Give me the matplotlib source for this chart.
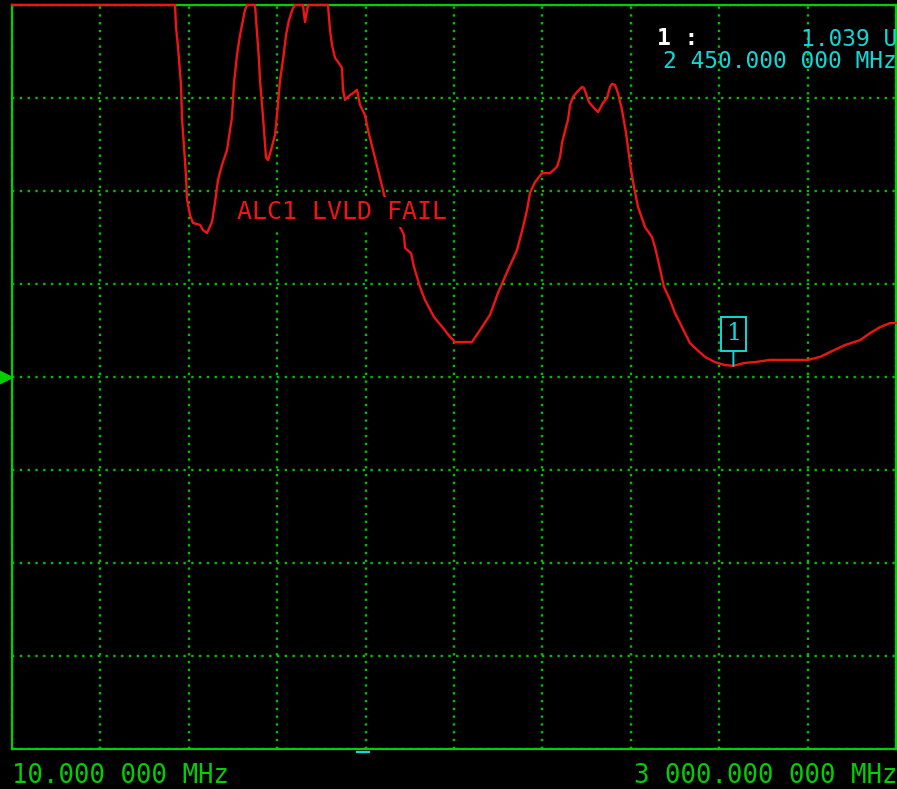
import numpy as np
import matplotlib
matplotlib.use('Agg')
import matplotlib.pyplot as plt

''' trace data: frequency in MHz, response in U '''
freq_mhz = [10, 561.3, 564.7, 571.5, 581.6, 585.0, 591.8, 598.5, 601.9, 612.1,
            622.2, 645.9, 656.0, 669.6, 686.5, 696.6, 706.8, 720.3, 737.2, 747.4,
            754.1, 760.9, 771.0, 781.2, 788.0, 798.1, 804.9, 825.2, 831.9, 838.7,
            845.5, 848.8, 859.0, 869.1, 875.9, 886.0, 899.6, 906.3, 916.5, 926.6,
            936.8, 946.9, 960.5, 967.2, 994.3, 1001.0, 1011.2, 1078.8, 1085.6, 1092.4,
            1102.5, 1112.7, 1126.2, 1129.6, 1136.3, 1153.3, 1163.4, 1176.9, 1187.1, 1204.0,
            1214.1, 1231.1, 1248.0, 1264.9, 1268.3, 1322.4, 1335.9, 1339.3, 1359.6, 1369.7,
            1390.0, 1406.9, 1437.4, 1467.8, 1491.5, 1508.4, 1565.9, 1592.9, 1626.8, 1653.8,
            1687.7, 1718.1, 1738.4, 1751.9, 1762.1, 1779.0, 1802.7, 1829.7, 1853.4, 1863.6,
            1870.3, 1883.8, 1890.6, 1897.4, 1907.5, 1921.1, 1938.0, 1944.7, 1961.6, 1975.2,
            1992.1, 2009.0, 2022.5, 2032.7, 2039.4, 2049.6, 2059.7, 2073.2, 2086.8, 2103.7,
            2113.8, 2127.4, 2151.1, 2174.7, 2184.9, 2195.0, 2215.3, 2235.6, 2252.5, 2269.4,
            2286.4, 2303.3, 2327.0, 2354.0, 2387.8, 2421.7, 2450.0, 2489.3, 2523.1, 2573.9,
            2702.4, 2743.0, 2776.8, 2827.6, 2878.3, 2912.1, 2946.0, 2979.8, 3000]
resp_u = [2.0, 2.0, 1.941, 1.887, 1.785, 1.696, 1.616, 1.540, 1.478, 1.435,
          1.414, 1.409, 1.395, 1.387, 1.417, 1.468, 1.530, 1.570, 1.610, 1.664,
          1.699, 1.790, 1.866, 1.919, 1.946, 1.987, 2.0, 2.0, 2.0, 1.925,
          1.852, 1.798, 1.699, 1.591, 1.583, 1.610, 1.651, 1.704, 1.798, 1.852,
          1.919, 1.960, 1.992, 2.0, 2.0, 1.954, 2.0, 2.0, 1.933, 1.892,
          1.858, 1.847, 1.831, 1.772, 1.745, 1.758, 1.763, 1.772, 1.731, 1.704,
          1.664, 1.610, 1.556, 1.503, 1.489, 1.403, 1.382, 1.347, 1.333, 1.296,
          1.242, 1.207, 1.161, 1.132, 1.108, 1.094, 1.094, 1.126, 1.167, 1.226,
          1.288, 1.341, 1.403, 1.449, 1.495, 1.524, 1.548, 1.548, 1.565, 1.591,
          1.629, 1.672, 1.691, 1.731, 1.753, 1.766, 1.780, 1.777, 1.739, 1.726,
          1.712, 1.737, 1.750, 1.780, 1.788, 1.785, 1.763, 1.718, 1.656, 1.556,
          1.511, 1.457, 1.403, 1.376, 1.349, 1.315, 1.242, 1.207, 1.172, 1.145,
          1.118, 1.091, 1.073, 1.054, 1.040, 1.032, 1.030, 1.038, 1.040, 1.046,
          1.046, 1.054, 1.067, 1.086, 1.099, 1.118, 1.134, 1.145, 1.145]

start_mhz = 10
stop_mhz = 3000
ref_value = 1.0
scale_per_div = 0.25
marker_mhz = 2450
marker_label = '1.039 U'
marker_freq_label = '2 450.000 000 MHz'
start_label = '10.000 000 MHz'
stop_label = '3 000.000 000 MHz'
status_label = 'ALC1 LVLD FAIL'

GREEN = '#00d000'
GRID = '#00c000'
RED = '#f01414'
CYAN = '#10d8d8'

W, H = 897, 789

fig = plt.figure(figsize=(W / 100, H / 100), dpi=100, facecolor='black')
ax = fig.add_axes([12 / W, 40 / H, 884 / W, 744 / H], facecolor='black')

y_low = ref_value - 4 * scale_per_div
y_high = ref_value + 4 * scale_per_div
ax.set_xlim(start_mhz, stop_mhz)
ax.set_ylim(y_low, y_high)
ax.set_xticks(np.linspace(start_mhz, stop_mhz, 11))
ax.set_yticks(np.linspace(y_low, y_high, 9))
ax.tick_params(length=0, labelbottom=False, labelleft=False)
ax.grid(True, color=GRID, linestyle=(0, (1, 2.3)), linewidth=1.7)
for sp in ax.spines.values():
    sp.set_color(GREEN)
    sp.set_linewidth(1.6)

''' trace, clamped at the top of the screen '''
ax.plot(freq_mhz, np.clip(resp_u, y_low, y_high), color=RED, linewidth=1.7,
        clip_on=False, zorder=5)

''' marker 1 '''
marker_value = np.interp(marker_mhz, freq_mhz, resp_u)
ax.annotate('1', xy=(marker_mhz, marker_value), xytext=(0, 23),
            textcoords='offset points', ha='center', va='center',
            color=CYAN, fontsize=17, family='DejaVu Serif',
            bbox=dict(boxstyle='square,pad=0.22', fc='black', ec=CYAN, lw=1.4),
            arrowprops=dict(arrowstyle='-', color=CYAN, lw=1.4,
                            shrinkA=0, shrinkB=0),
            zorder=7)

''' reference position arrow on the left '''
ax.plot([-0.0095], [ref_value], marker='>', markersize=11, color=GREEN,
        transform=ax.get_yaxis_transform(), clip_on=False, linestyle='none')

''' small stimulus mark below the screen '''
ax.plot([0.390, 0.404], [-0.004, -0.004], color=CYAN, linewidth=1.6,
        transform=ax.transAxes, clip_on=False)

mono = 'DejaVu Sans Mono'

fig.text(237 / W, 1 - 219 / H, status_label, color=RED, fontsize=18,
         family=mono, ha='left', va='baseline',
         bbox=dict(fc='black', ec='none', pad=2), zorder=6)

fig.text(657 / W, 1 - 45 / H, '1 :', color='white', fontsize=16.5,
         family=mono, weight='bold', ha='left', va='baseline')
fig.text(897 / W, 1 - 46 / H, marker_label, color=CYAN, fontsize=16.5,
         family=mono, ha='right', va='baseline')
fig.text(897 / W, 1 - 68 / H, marker_freq_label, color=CYAN, fontsize=16.5,
         family=mono, ha='right', va='baseline')

fig.text(12 / W, 1 - 783 / H, start_label, color=GREEN, fontsize=18.5,
         family=mono, ha='left', va='baseline')
fig.text(897 / W, 1 - 783 / H, stop_label, color=GREEN, fontsize=18.5,
         family=mono, ha='right', va='baseline')

fig.savefig('out.png', dpi=100, facecolor='black')
